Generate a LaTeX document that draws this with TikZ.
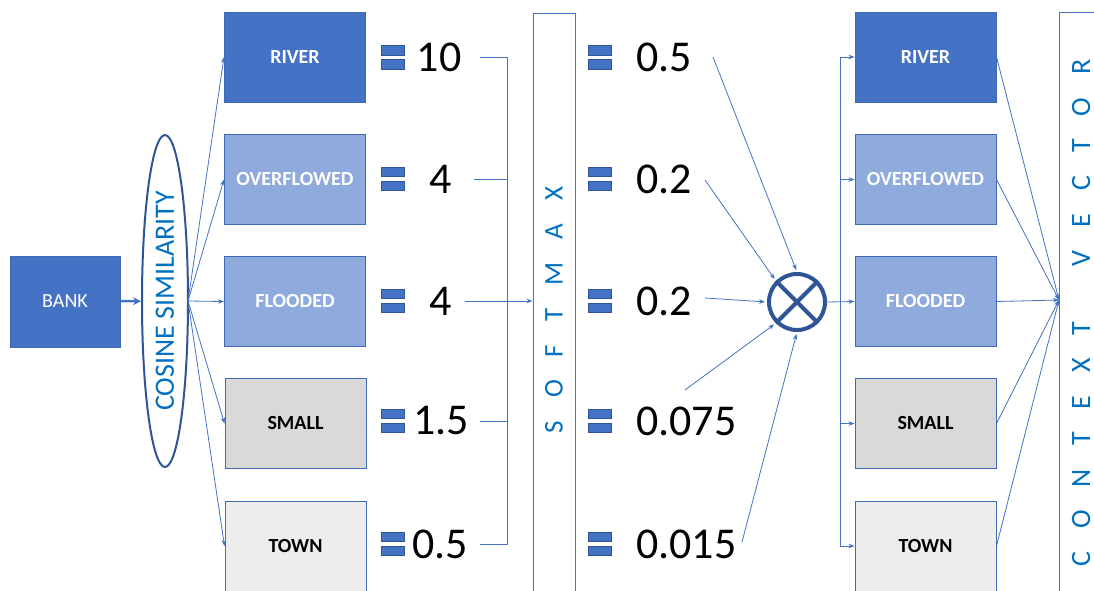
\documentclass[tikz,border=0pt]{standalone}
\usepackage{fontspec}
\setmainfont{Carlito}
\usetikzlibrary{arrows.meta,shapes.geometric}
\definecolor{dblue}{HTML}{4472C4}
\definecolor{lblue}{HTML}{8FAADC}
\definecolor{edgeblue}{HTML}{3F68B5}
\definecolor{navy}{HTML}{2F5597}
\definecolor{tblue}{HTML}{0070C0}
\definecolor{gfill}{HTML}{D9D9D9}
\definecolor{gfilltwo}{HTML}{EDEDED}
\newcommand\lgap{\hspace{23pt}}
\newcommand\wgap{\hspace{55pt}}
\begin{document}
\begin{tikzpicture}[x=1pt,y=-1pt,
  wordbox/.style={rectangle, draw=edgeblue, line width=1pt, minimum width=141pt,
    minimum height=90pt, inner sep=0pt, font=\fontsize{20}{24}\selectfont\bfseries},
  darkbox/.style={wordbox, fill=dblue, text=white},
  lightbox/.style={wordbox, fill=lblue, text=white},
  greybox/.style={wordbox, fill=gfill, text=black},
  palebox/.style={wordbox, fill=gfilltwo, text=black},
  num/.style={inner sep=0pt, text=black, font=\fontsize{44}{50}\selectfont},
  conn/.style={draw=dblue, line width=0.8pt},
  arr/.style={conn, -{Stealth[length=6pt,width=4.5pt]}},
  vbar/.style={rectangle, draw=dblue, line width=1pt, inner sep=0pt,
    minimum height=42pt, text=tblue, font=\fontsize{27}{30}\selectfont, rotate=90},
  eqsign/.pic={\fill[dblue, draw=navy, line width=0.5pt]
    (-11.5,-12) rectangle (11.5,-2.5) (-11.5,2) rectangle (11.5,11.5);}
]
\fill[white] (0,0) rectangle (1094,590);
\clip (0,0) rectangle (1094,590);

% left side
\node[darkbox, font=\fontsize{20}{24}\selectfont, minimum width=110pt, minimum height=91pt] (bank) at (65,301.5) {BANK};
\node[ellipse, draw=navy, line width=2pt, minimum width=332pt, minimum height=46pt,
  inner sep=0pt, rotate=90, text=tblue, font=\fontsize{28}{30}\selectfont] (cos) at (165,301) {COSINE SIMILARITY};
\draw[draw=dblue, line width=2.5pt, -{Stealth[length=8pt,width=8pt]}] (bank) -- (cos);

\node[darkbox]  (lriver) at (295,57)    {RIVER};
\node[lightbox] (lover)  at (295,179.5) {OVERFLOWED};
\node[lightbox] (lflood) at (295,301.5) {FLOODED};
\node[greybox]  (lsmall) at (295.5,423.5) {SMALL};
\node[palebox]  (ltown)  at (295.5,546) {TOWN};

\coordinate (cout) at (188,301);
\draw[arr] (cout) -- (lriver.west);
\draw[arr] (cout) -- (lover.west);
\draw[arr] (cout) -- (lflood.west);
\draw[arr] (cout) -- (lsmall.west);
\draw[arr] (cout) -- (ltown.west);

% first column of values
\pic at (392.5,57.5) {eqsign};
\pic at (392.5,179) {eqsign};
\pic at (392.5,301) {eqsign};
\pic at (392.5,421) {eqsign};
\pic at (392.5,544) {eqsign};
\node[num] (n1) at (439,57.5) {10};
\node[num] (n2) at (441,179) {4};
\node[num] (n3) at (441,301) {4};
\node[num] (n4) at (441,421) {1.5};
\node[num] (n5) at (440,544) {0.5};

% softmax
\node[vbar, minimum width=594pt] (smx) at (554,310) {S\lgap O\lgap F\lgap T\lgap M\lgap A\lgap X};

\coordinate (a1) at (480,57.5);
\coordinate (a2) at (474,179);
\coordinate (a3) at (465,301);
\coordinate (a4) at (480,421);
\coordinate (a5) at (480,544);
\coordinate (bt) at (507,57.5);
\coordinate (bb) at (507,544);
\draw[conn] (a1) -- (bt) -- (bb) -- (a5);
\draw[conn] (a2) -- (a2 -| bt);
\draw[conn] (a4) -- (a4 -| bt);
\draw[arr] (a3) -- (a3 -| smx.north);

% second column of values
\pic at (600,57.5) {eqsign};
\pic at (600,179) {eqsign};
\pic at (600,301) {eqsign};
\pic at (600,421) {eqsign};
\pic at (600,544) {eqsign};
\node[num, anchor=west] (m1) at (636,57.5) {0.5};
\node[num, anchor=west] (m2) at (636,179) {0.2};
\node[num, anchor=west] (m3) at (636,301) {0.2};
\node[num, anchor=west] (m4) at (636,421) {0.075};
\node[num, anchor=west] (m5) at (636,544) {0.015};

% multiplication
\node[circle, draw=navy, line width=4pt, minimum size=56pt, inner sep=0pt] (mul) at (797,302) {};
\draw[navy, line width=4pt] (mul.north west) -- (mul.south east) (mul.north east) -- (mul.south west);

\coordinate (b1) at (713,57);
\coordinate (b2) at (705,180);
\coordinate (b3) at (705,298);
\coordinate (b4) at (685,390);
\coordinate (b5) at (742,542);
\draw[arr, shorten >=2pt] (b1) -- (mul.north);
\draw[arr, shorten >=2pt] (b2) -- (mul.north west);
\draw[arr, shorten >=2pt] (b3) -- (mul.west);
\draw[arr, shorten >=2pt] (b4) -- (mul.south west);
\draw[arr, shorten >=2pt] (b5) -- (mul.south);

% right side
\node[darkbox]  (rriver) at (925.5,57)    {RIVER};
\node[lightbox] (rover)  at (925.5,179.5) {OVERFLOWED};
\node[lightbox] (rflood) at (925.5,301.5) {FLOODED};
\node[greybox]  (rsmall) at (925.5,423.5) {SMALL};
\node[palebox]  (rtown)  at (925.5,546)   {TOWN};

\coordinate (vx) at (840,0);
\draw[conn] (rriver.west -| vx) -- (rtown.west -| vx);
\draw[arr] (rriver.west -| vx) -- (rriver.west);
\draw[arr] (rover.west -| vx) -- (rover.west);
\draw[arr] (rsmall.west -| vx) -- (rsmall.west);
\draw[arr] (rtown.west -| vx) -- (rtown.west);
\draw[arr] (mul.east) -- (rflood.west);

% context vector
\node[vbar, minimum width=602pt, minimum height=44pt, font=\fontsize{28}{30}\selectfont] (ctx) at (1081,313)
  {C\lgap O\lgap N\lgap T\lgap E\lgap X\lgap T\wgap V\lgap E\lgap C\lgap T\lgap O\lgap R};
\coordinate (cin) at (1059,300);
\draw[arr] (rriver.east) -- (cin);
\draw[arr] (rover.east) -- (cin);
\draw[arr] (rflood.east) -- (cin);
\draw[arr] (rsmall.east) -- (cin);
\draw[arr] (rtown.east) -- (cin);
\end{tikzpicture}
\end{document}
